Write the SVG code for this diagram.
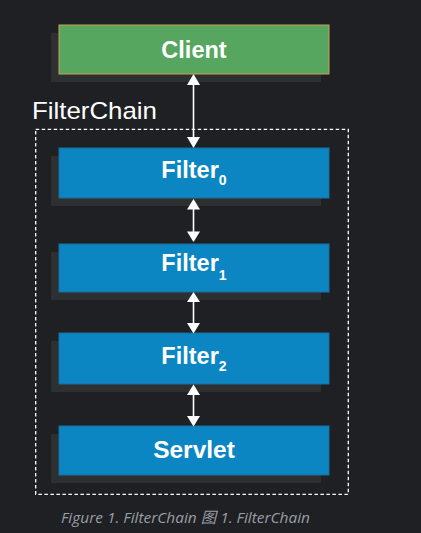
<svg xmlns="http://www.w3.org/2000/svg" width="421" height="533" viewBox="0 0 421 533">
<style>
.bg{fill:#1e2024}
.shadow{fill:#2e2f31}
.box{fill:#0b86c3;stroke:#1b6f9c;stroke-width:1}
.client{fill:#56a660;stroke:#c9a052;stroke-width:1}
.lbl{font-family:"Liberation Sans",Arial,sans-serif;font-weight:bold;font-size:23.5px;fill:#ffffff;text-anchor:middle}
.sub{font-size:14px}
.conn{stroke:#ffffff;stroke-width:1.6;fill:none}
.head{fill:#ffffff}
.frame{fill:none;stroke:#ffffff;stroke-width:1.3;stroke-dasharray:3.5 2.5}
.title{font-family:"Liberation Sans",Arial,sans-serif;font-size:24px;fill:#ffffff}
.cap{font-family:"Open Sans","Noto Sans","Noto Sans CJK SC",sans-serif;font-style:italic;font-size:15.3px;fill:#9a9ea5}
</style>
<rect class="bg" x="0" y="0" width="421" height="533"/>
<g id="filterchain">
<rect class="frame" x="35.7" y="129.3" width="312.6" height="365"/>
<text class="title" x="32" y="119" textLength="125" lengthAdjust="spacingAndGlyphs">FilterChain</text>
</g>
<g id="client">
<rect class="shadow" x="51" y="33" width="270" height="49"/>
<rect class="client" x="59" y="25" width="270" height="49"/>
<text class="lbl" x="194" y="57.5">Client</text>
</g>
<g id="filter0">
<rect class="shadow" x="51" y="156" width="270" height="50"/>
<rect class="box" x="59" y="148" width="270" height="50"/>
<text class="lbl" x="194" y="178.3">Filter<tspan class="sub" dy="7">0</tspan></text>
</g>
<g id="filter1">
<rect class="shadow" x="51" y="252" width="270" height="48"/>
<rect class="box" x="59" y="244" width="270" height="48"/>
<text class="lbl" x="194" y="271">Filter<tspan class="sub" dy="9">1</tspan></text>
</g>
<g id="filter2">
<rect class="shadow" x="51" y="341" width="270" height="51"/>
<rect class="box" x="59" y="333" width="270" height="51"/>
<text class="lbl" x="194" y="363.5">Filter<tspan class="sub" dy="7.5">2</tspan></text>
</g>
<g id="servlet">
<rect class="shadow" x="51" y="434" width="270" height="49"/>
<rect class="box" x="59" y="426" width="270" height="49"/>
<text class="lbl" x="194" y="457.7" style="font-size:24.5px">Servlet</text>
</g>
<g id="connectors">
<line class="conn" x1="193.5" y1="84" x2="193.5" y2="138"/>
<polygon class="head" points="193.5,74 187,85 200,85"/>
<polygon class="head" points="193.5,148 187,137 200,137"/>
<line class="conn" x1="193.5" y1="208" x2="193.5" y2="233"/>
<polygon class="head" points="193.5,199 187,209.5 200,209.5"/>
<polygon class="head" points="193.5,242 187,231.5 200,231.5"/>
<line class="conn" x1="193.5" y1="301" x2="193.5" y2="324"/>
<polygon class="head" points="193.5,292 187,302 200,302"/>
<polygon class="head" points="193.5,333.5 187,323 200,323"/>
<line class="conn" x1="193.5" y1="394" x2="193.5" y2="417"/>
<polygon class="head" points="193.5,384.5 187,395 200,395"/>
<polygon class="head" points="193.5,426.5 187,416 200,416"/>
</g>
<text class="cap" x="61" y="522.7" textLength="249" lengthAdjust="spacingAndGlyphs">Figure 1. FilterChain 图 1. FilterChain</text>
</svg>
